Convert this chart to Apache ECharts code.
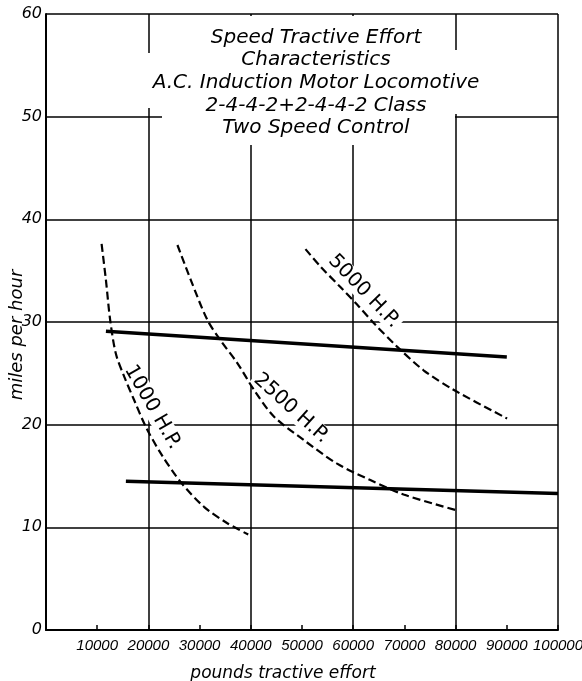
<!DOCTYPE html>
<html>
<head>
<meta charset="utf-8">
<script src="https://cdn.jsdelivr.net/npm/echarts@6/dist/echarts.min.js"></script>
<style>
  html, body { margin: 0; padding: 0; background: #fff; }
  #chart { width: 582px; height: 681px; }
</style>
</head>
<body>
<div id="chart"></div>
<script>
// title block
const titleLines = [
  'Speed Tractive Effort',
  'Characteristics',
  'A.C. Induction Motor Locomotive',
  '2-4-4-2+2-4-4-2 Class',
  'Two Speed Control'
];

// constant horsepower curves (pounds tractive effort, mph)
const hp1000Effort = [10860, 11700, 12530, 13650, 15260, 17210, 19490, 22420, 26320, 30860, 35420, 39500];
const hp1000Speed  = [37.6, 34.1, 30.2, 26.9, 24.7, 22.4, 19.8, 17.2, 14.4, 12.0, 10.4, 9.3];
const hp2500Effort = [25670, 28270, 31520, 34110, 37370, 40610, 44500, 50350, 56860, 63350, 69840, 79920];
const hp2500Speed  = [37.5, 34.1, 30.2, 28.2, 26.0, 23.4, 20.8, 18.5, 16.2, 14.6, 13.2, 11.7];
const hp5000Effort = [50680, 53610, 57500, 60760, 64000, 68560, 73740, 79590, 90060];
const hp5000Speed  = [37.1, 35.4, 33.4, 31.7, 29.9, 27.6, 25.3, 23.4, 20.6];

// two speed control lines
const highEffort = [11700, 90000];
const highSpeed  = [29.1, 26.6];
const lowEffort  = [15600, 100000];
const lowSpeed   = [14.5, 13.3];

// curve labels, anchored in data units
const curveLabels = ['1000 H.P.', '2500 H.P.', '5000 H.P.'];
const labelEffort = [20800, 47900, 62100];
const labelSpeed  = [21.7, 21.6, 33.0];
const labelAngle  = [-60, -42, -46];

const pairs = (xs, ys) => xs.map((x, i) => [x, ys[i]]);

const chart = echarts.init(document.getElementById('chart'), null, { renderer: 'canvas' });

const italic = { fontFamily: 'DejaVu Sans', fontStyle: 'italic', color: '#000' };

const dashed = {
  type: 'line', smooth: 0.3, symbol: 'none', silent: true, z: 3,
  lineStyle: { color: '#000', width: 2.2, type: [8, 4] }
};
const solid = {
  type: 'line', symbol: 'none', silent: true, z: 3,
  lineStyle: { color: '#000', width: 3.5 }
};

chart.setOption({
  animation: false,
  backgroundColor: '#fff',
  title: {
    text: titleLines.join('\n'),
    left: 311,
    top: 21,
    textAlign: 'center',
    textStyle: Object.assign({ fontSize: 20, fontWeight: 'normal', lineHeight: 22.7 }, italic)
  },
  grid: { left: 46, right: 24, top: 14, bottom: 51, outerBoundsMode: 'none', containLabel: false },
  xAxis: [{
    type: 'value', min: 0, max: 100000, interval: 10000,
    name: 'pounds tractive effort', nameLocation: 'middle', nameGap: 35,
    nameTextStyle: Object.assign({ fontSize: 17, padding: [0, 38, 0, 0] }, italic),
    axisLine: { lineStyle: { color: '#000', width: 2 } },
    axisTick: { inside: true, length: 5, lineStyle: { color: '#000', width: 1.5 } },
    axisLabel: {
      margin: 8, fontSize: 15, fontStyle: 'italic', color: '#000',
      fontFamily: "'Liberation Sans', sans-serif",
      formatter: v => v === 0 ? '' : String(v)
    },
    splitLine: { show: false }
  }, {
    type: 'value', min: 0, max: 100000, interval: 20000, position: 'bottom',
    axisLine: { show: false }, axisTick: { show: false }, axisLabel: { show: false },
    splitLine: { show: true, lineStyle: { color: '#000', width: 1.5 } }
  }],
  yAxis: {
    type: 'value', min: 0, max: 60, interval: 10,
    name: 'miles per hour', nameLocation: 'middle', nameGap: 20, nameRotate: 90,
    nameMoveOverlap: false,
    nameTextStyle: Object.assign({ fontSize: 18, padding: [0, 26, 0, 0] }, italic),
    axisLine: { show: true, lineStyle: { color: '#000', width: 2 } },
    axisTick: { show: false },
    axisLabel: Object.assign({ margin: 4, fontSize: 16 }, italic),
    splitLine: { show: true, lineStyle: { color: '#000', width: 1.5 } }
  },
  series: [
    Object.assign({ name: '1000 H.P.', data: pairs(hp1000Effort, hp1000Speed) }, dashed),
    Object.assign({ name: '2500 H.P.', data: pairs(hp2500Effort, hp2500Speed) }, dashed),
    Object.assign({ name: '5000 H.P.', data: pairs(hp5000Effort, hp5000Speed) }, dashed),
    Object.assign({ name: 'high speed', data: pairs(highEffort, highSpeed) }, solid),
    Object.assign({ name: 'low speed', data: pairs(lowEffort, lowSpeed) }, solid)
  ]
});

// white patches where the title block interrupts the grid, then curve labels
const blank = (x, y, w, h) => ({
  type: 'rect', z: 1, silent: true,
  shape: { x, y, width: w, height: h },
  style: { fill: '#fff' }
});
const graphics = [
  blank(162, 16, 293, 129),
  blank(144, 53, 9, 55),
  blank(453, 50, 10, 64)
];
curveLabels.forEach((t, i) => {
  const p = chart.convertToPixel({ gridIndex: 0 }, [labelEffort[i], labelSpeed[i]]);
  graphics.push({
    type: 'text', z: 2, silent: true,
    x: p[0], y: p[1], rotation: labelAngle[i] * Math.PI / 180,
    style: {
      text: t, fontFamily: 'DejaVu Sans', fontSize: 20, fill: '#000',
      align: 'center', verticalAlign: 'middle',
      backgroundColor: '#fff', padding: [0, 2]
    }
  });
});
chart.setOption({ graphic: graphics });
</script>
</body>
</html>
